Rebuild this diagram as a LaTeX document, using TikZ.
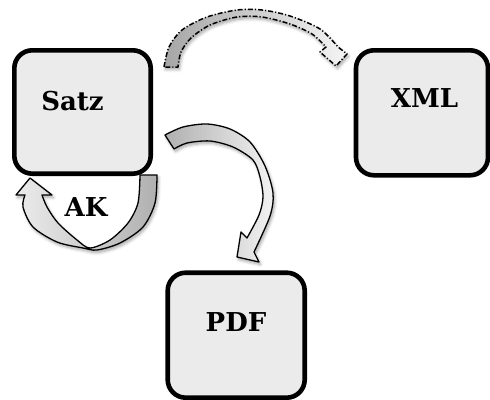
\documentclass[tikz,border=0pt]{standalone}
\usepackage{fontspec}
\setmainfont{DejaVu Serif}
\usetikzlibrary{shadows.blur}
\begin{document}
\begin{tikzpicture}[x=1pt,y=-1pt,
  box/.style={draw=black, line width=4.6pt, fill=gray!16, rounded corners=18pt, inner sep=0pt, outer sep=0pt},
  lbl/.style={font=\bfseries\fontsize{26}{30}\selectfont, inner sep=0pt, text depth=0pt},
  barrow/.style={draw=black, line width=1.3pt, line join=round,
    blur shadow={shadow xshift=1.5pt, shadow yshift=-2.5pt, shadow blur steps=6, shadow blur radius=3pt, shadow opacity=35}},
  dasharrow/.style={barrow, line width=1.5pt, dash pattern=on 5pt off 2pt on 1.2pt off 2pt},
]
\useasboundingbox (0,0) rectangle (490,399);

% dashed curved arrow Satz -> XML
\path[dasharrow, left color=gray!70, right color=gray!8]
 (164,67) -- plot[smooth] coordinates {(164,67) (169,47) (182,30) (207,17) (237,10) (262,10) (290,16) (320,29) (338,47)}
 -- (347,54) -- (336,66) -- (320,52) -- (326,47)
 -- plot[smooth] coordinates {(326,47) (312,34) (290,24) (262,17) (237,17) (210,25) (191,38) (181,52) (178,67)} -- cycle;

% curved arrow Satz -> PDF
\path[barrow, left color=gray!62, right color=gray!10]
 (165,135) -- plot[smooth] coordinates {(165,135) (183,127) (207,124) (230,129) (250,142) (265,166) (273,193) (270,216) (254,252)}
 -- (259,262) -- (237,257) -- (241,232) -- (247,238)
 -- plot[smooth] coordinates {(247,238) (259,215) (263,197) (260,177) (253,160) (233,147) (210,141) (187,143) (174,149)} -- cycle;

% AK loop arrow
\path[barrow, left color=gray!15, right color=gray!62]
 (140,175) -- (157,175) -- plot[smooth] coordinates {(157,175) (155,203) (143,227) (120,243) (97,250) (83,248) (57,242) (33,227) (23,207) (25,195)}
 -- (16,195) -- (30,178) -- (52,195) -- (42,195)
 -- plot[smooth] coordinates {(42,195) (47,207) (58,223) (77,240) (90,248) (110,240) (128,223) (138,203) (140,175)} -- cycle;

% boxes
\node[box, minimum width=136.4pt, minimum height=123.4pt] (satz) at (82.5,112) {};
\node[box, minimum width=132pt, minimum height=125pt] (xml) at (422,112.8) {};
\node[box, minimum width=137pt, minimum height=125pt] (pdf) at (236.2,335.2) {};

% labels
\node[lbl] (satzt) at (72.5,101) {Satz};
\node[lbl] (xmlt) at (424.5,98) {XML};
\node[lbl] (pdft) at (236,322) {PDF};
\node[lbl] (akt) at (86,207.5) {AK};
\end{tikzpicture}
\end{document}
